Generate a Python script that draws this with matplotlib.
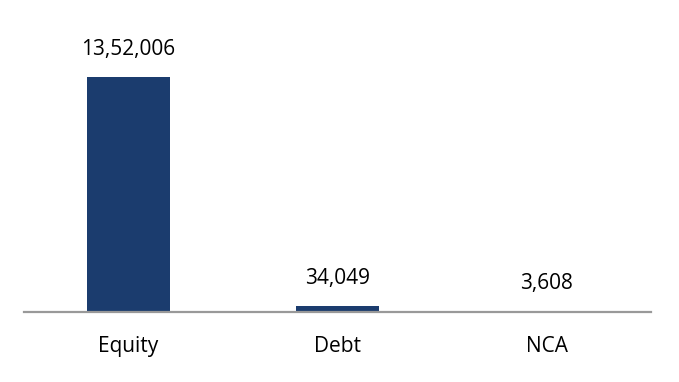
import numpy as np
import matplotlib.pyplot as plt

categories = ["Equity", "Debt", "NCA"]
values = [1352006, 34049, 3608]
value_labels = ["13,52,006", "34,049", "3,608"]

BAR_COLOR = "#1b3c6e"
W, H = 679, 382

plt.rcParams['font.family'] = ['Open Sans', 'DejaVu Sans']

fig = plt.figure(figsize=(W / 100, H / 100), dpi=100)
ax = fig.add_axes([24 / W, 70 / H, 627 / W, 292 / H])

x = np.arange(len(categories))
ax.bar(x, values, width=0.4, color=BAR_COLOR)
ax.set_xlim(-0.5, 2.5)
ax.set_ylim(0, values[0] * 292 / 235)

for xi, v, lab in zip(x, values, value_labels):
    ax.annotate(lab, (xi, v), xytext=(0, 28), textcoords='offset pixels',
                ha='center', va='center', fontsize=15, color='#000000')

ax.set_xticks(x)
ax.set_xticklabels(categories, fontsize=15, color='#000000')
ax.tick_params(axis='x', length=0, pad=17.5)
ax.set_yticks([])
for s in ['top', 'right', 'left']:
    ax.spines[s].set_visible(False)
ax.spines['bottom'].set_color('#999999')
ax.spines['bottom'].set_linewidth(1.6)

fig.savefig("out.png", dpi=100)
